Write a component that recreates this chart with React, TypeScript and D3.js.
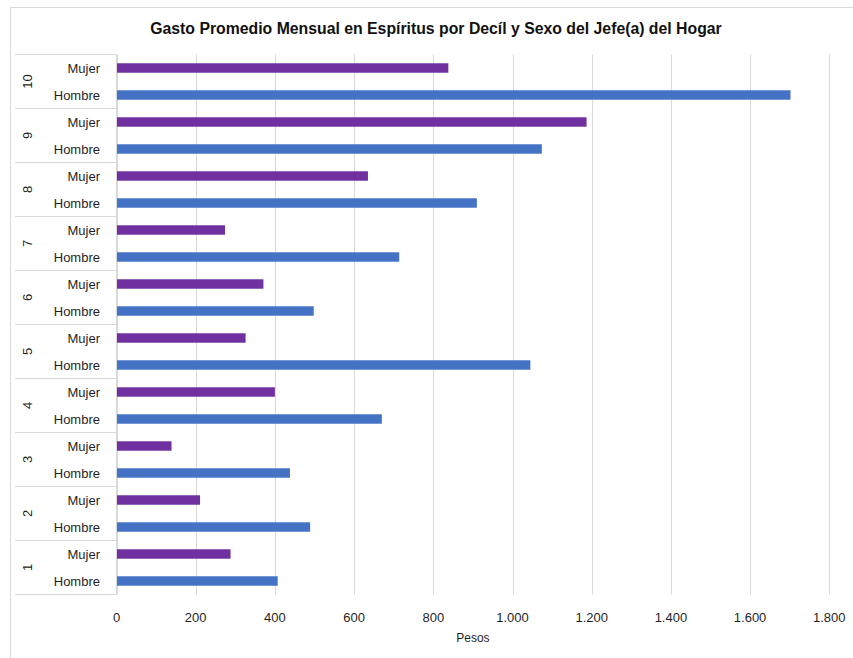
import React from "react";
import * as d3 from "d3";

const deciles = ["1", "2", "3", "4", "5", "6", "7", "8", "9", "10"];
const sexes = ["Mujer", "Hombre"];
const hombre = [407, 489, 438, 670, 1045, 498, 714, 910, 1074, 1702];
const mujer = [288, 211, 139, 400, 326, 371, 274, 635, 1187, 838];
const xTicks = [0, 200, 400, 600, 800, 1000, 1200, 1400, 1600, 1800];
const title = "Gasto Promedio Mensual en Espíritus por Decíl y Sexo del Jefe(a) del Hogar";
const xTitle = "Pesos";

const W = 853;
const H = 658;
const left = 116.5;
const right = 829.3;
const top = 54.5;
const bottom = 594.5;
const FONT = "'Liberation Sans', Arial, sans-serif";
const colors: Record<string, string> = { Mujer: "#7030A0", Hombre: "#4472C4" };

const fmt = (v: number) => d3.format(",")(v).replace(/,/g, ".");

export default function App() {
  const x = d3.scaleLinear().domain([0, 1800]).range([left, right]);
  const groupOrder = [...deciles].reverse();
  const yGroup = d3.scaleBand().domain(groupOrder).range([top, bottom]).padding(0);
  const yInner = d3
    .scaleBand()
    .domain(sexes)
    .range([0, yGroup.bandwidth()])
    .paddingInner(0.65)
    .paddingOuter(0.325);
  const yLab = d3.scaleBand().domain(sexes).range([0, yGroup.bandwidth()]);

  const valueOf = (sex: string, i: number) => (sex === "Mujer" ? mujer[i] : hombre[i]);

  return (
    <svg
      width={W}
      height={H}
      style={{ position: "absolute", left: 0, top: 0, background: "#fff" }}
    >
      <rect x={10.5} y={7.5} width={900} height={700} fill="#fff" stroke="#d9d9d9" />
      <text
        x={436}
        y={34}
        textAnchor="middle"
        fontFamily={FONT}
        fontWeight="bold"
        fontSize={15.8}
        fill="#111"
      >
        {title}
      </text>
      {xTicks.map((t) => (
        <line
          key={"g" + t}
          x1={Math.round(x(t)) + 0.5}
          x2={Math.round(x(t)) + 0.5}
          y1={top}
          y2={bottom}
          stroke="#d9d9d9"
          strokeWidth={1}
        />
      ))}
      {deciles.map((d, i) =>
        sexes.map((s) => {
          const y0 = (yGroup(d) as number) + (yInner(s) as number);
          return (
            <rect
              key={d + s}
              x={x(0)}
              y={y0}
              width={x(valueOf(s, i)) - x(0)}
              height={yInner.bandwidth()}
              fill={colors[s]}
            />
          );
        })
      )}
      {/* category axis */}
      <line x1={left} x2={left} y1={top} y2={bottom} stroke="#d9d9d9" />
      {groupOrder.map((d) => (
        <line
          key={"s" + d}
          x1={15}
          x2={left}
          y1={(yGroup(d) as number)}
          y2={(yGroup(d) as number)}
          stroke="#d9d9d9"
        />
      ))}
      <line x1={15} x2={left} y1={bottom} y2={bottom} stroke="#d9d9d9" />
      {groupOrder.map((d) =>
        sexes.map((s) => (
          <text
            key={"l" + d + s}
            x={100}
            y={(yGroup(d) as number) + (yLab(s) as number) + yLab.bandwidth() / 2}
            dy="0.35em"
            textAnchor="end"
            fontFamily={FONT}
            fontSize={13}
            fill="#1f1f1f"
          >
            {s}
          </text>
        ))
      )}
      {groupOrder.map((d) => {
        const cy = (yGroup(d) as number) + yGroup.bandwidth() / 2;
        return (
          <text
            key={"d" + d}
            transform={`translate(27,${cy}) rotate(-90)`}
            dy="0.35em"
            textAnchor="middle"
            fontFamily={FONT}
            fontSize={13}
            fill="#1f1f1f"
          >
            {d}
          </text>
        );
      })}
      {xTicks.map((t) => (
        <text
          key={"t" + t}
          x={x(t)}
          y={617}
          dy="0.35em"
          textAnchor="middle"
          fontFamily={FONT}
          fontSize={13}
          fill="#1f1f1f"
        >
          {fmt(t)}
        </text>
      ))}
      <text
        x={(left + right) / 2}
        y={638}
        dy="0.35em"
        textAnchor="middle"
        fontFamily={FONT}
        fontSize={12}
        fill="#1f1f1f"
      >
        {xTitle}
      </text>
    </svg>
  );
}
